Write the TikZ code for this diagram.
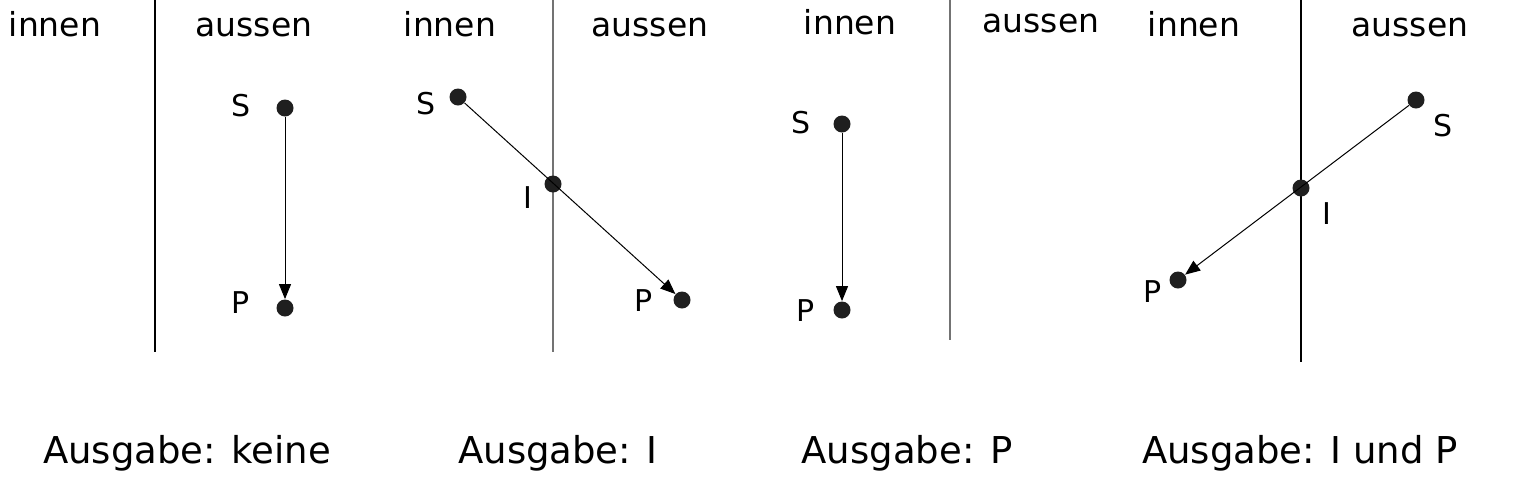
\documentclass[tikz,border=0pt]{standalone}
\usepackage{fontspec}
\setmainfont{DejaVu Sans}
\usetikzlibrary{arrows.meta}
\definecolor{dotgray}{gray}{0.12}
\tikzstyle{pt} = [circle, fill=dotgray, inner sep=0pt, minimum size=8.5pt]
\tikzstyle{side} = [font=\fontsize{16.5}{19}\selectfont, anchor=base, inner sep=0pt]
\begin{document}
\begin{tikzpicture}[x=0.5pt,y=-0.5pt,
			lbl/.style={font=\fontsize{15}{18}\selectfont, inner sep=0pt},
			res/.style={font=\fontsize{18.5}{22}\selectfont, anchor=base, inner sep=0pt},
			wall/.style={line width=1pt, black!55},
			ray/.style={line width=0.5pt, -{Triangle[length=7.5pt,width=6pt]}}]
			\useasboundingbox (0,0) rectangle (1535,500);
			% Fall 1: beide aussen
			\coordinate (w1a) at (155,0);
			\coordinate (w1b) at (155,352);
			\draw[wall, black] (w1a) -- (w1b);
			\node[side] (in1) at (55,36) {innen};
			\node[side] (out1) at (254,36) {aussen};
			\node (S1)[pt] at (285,108) {};
			\node (P1)[pt] at (285,308) {};
			\node (S1l)[lbl] at (241,106) {S};
			\node (P1l)[lbl] at (241,303) {P};
			\draw[ray] (S1) -- (P1);
			\node[res] (out1txt) at (187,463) {Ausgabe: keine};
			
			% Fall 2: S innen, P aussen
			\coordinate (w2a) at (553,0);
			\coordinate (w2b) at (553,352);
			\draw[wall] (w2a) -- (w2b);
			\node[side] (in2) at (450,36) {innen};
			\node[side] (out2) at (650,36) {aussen};
			\node (S2)[pt] at (458,97) {};
			\node (I2)[pt] at (553,184) {};
			\node (P2)[pt] at (682,300) {};
			\node (S2l)[lbl] at (426,104) {S};
			\node (I2l)[lbl] at (528,198) {I};
			\node (P2l)[lbl] at (644,301) {P};
			\draw[ray] (S2) -- (P2);
			\node[res] (out2txt) at (558,463) {Ausgabe: I};
			
			% Fall 3: beide innen
			\coordinate (w3a) at (950,0);
			\coordinate (w3b) at (950,340);
			\draw[wall] (w3a) -- (w3b);
			\node[side] (in3) at (850,34) {innen};
			\node[side] (out3) at (1041,32) {aussen};
			\node (S3)[pt] at (842,124) {};
			\node (P3)[pt] at (842,310) {};
			\node (S3l)[lbl] at (801,123) {S};
			\node (P3l)[lbl] at (806,311) {P};
			\draw[ray] (S3) -- (P3);
			\node[res] (out3txt) at (907,463) {Ausgabe: P};
			
			% Fall 4: S aussen, P innen
			\coordinate (w4a) at (1301,0);
			\coordinate (w4b) at (1301,362);
			\draw[wall, black] (w4a) -- (w4b);
			\node[side] (in4) at (1194,36) {innen};
			\node[side] (out4) at (1410,36) {aussen};
			\node (S4)[pt] at (1416,100) {};
			\node (I4)[pt] at (1301,188) {};
			\node (P4)[pt] at (1178,280) {};
			\node (S4l)[lbl] at (1443,126) {S};
			\node (I4l)[lbl] at (1327,214) {I};
			\node (P4l)[lbl] at (1153,292) {P};
			\draw[ray] (S4) -- (P4);
			\node[res] (out4txt) at (1300,463) {Ausgabe: I und P};
\end{tikzpicture}
\end{document}
